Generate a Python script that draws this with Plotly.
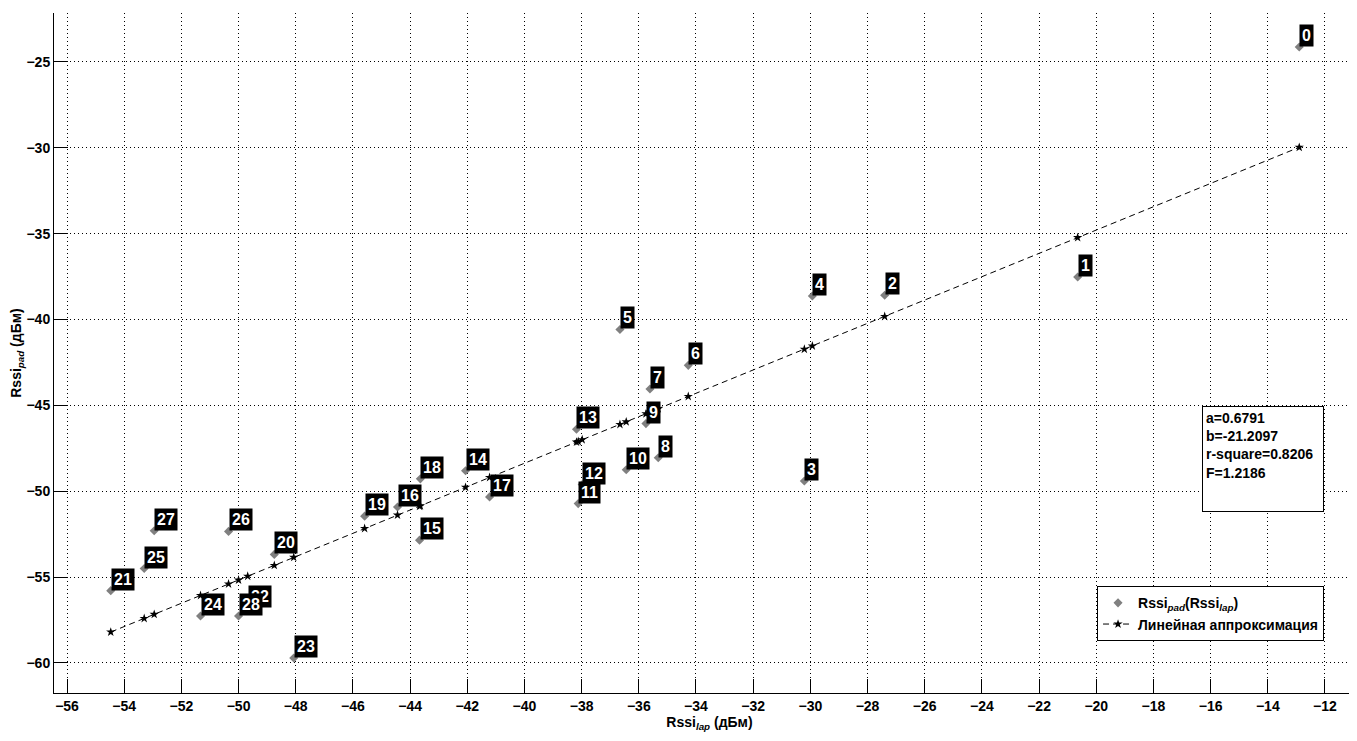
import plotly.graph_objects as go

# measured points (index = label number)
rssi_lap = [-12.9, -20.65, -27.4, -30.21, -29.93, -36.66, -34.27, -35.61, -35.32, -35.75,
            -36.44, -38.12, -37.98, -38.18, -42.06, -43.67, -44.44, -41.22, -43.64, -45.59,
            -48.75, -54.47, -49.68, -48.07, -51.33, -53.30, -50.35, -52.95, -50.0]
rssi_pad = [-24.13, -37.52, -38.59, -49.40, -38.63, -40.58, -42.67, -44.05, -48.05, -46.06,
            -48.75, -50.72, -49.61, -46.39, -48.81, -52.85, -50.92, -50.33, -49.28, -51.45,
            -53.68, -55.79, -56.80, -59.71, -57.27, -54.50, -52.34, -52.30, -57.27]
point_labels = [str(i) for i in range(len(rssi_lap))]

# fitted values
fit_pad = [-29.97, -35.23, -39.82, -41.73, -41.54, -46.11, -44.48, -45.39, -45.20, -45.49,
           -45.96, -47.10, -47.00, -47.14, -49.77, -50.87, -51.39, -49.20, -50.85, -52.17,
           -54.32, -58.20, -54.95, -53.85, -56.07, -57.41, -55.40, -57.17, -55.17]

fit_stats = ["a=0.6791", "b=-21.2097", "r-square=0.8206", "F=1.2186"]

x_ticks = list(range(-56, -11, 2))
y_ticks = list(range(-60, -24, 5))

FONT = "Liberation Sans"

# line goes through the fitted points sorted along x
order = sorted(range(len(rssi_lap)), key=lambda i: rssi_lap[i])
line_x = [rssi_lap[i] for i in order]
line_y = [fit_pad[i] for i in order]

fig = go.Figure()

fig.add_trace(go.Scatter(
    x=rssi_lap, y=rssi_pad, mode="markers",
    name="Rssi<sub><i>pad</i></sub>(Rssi<sub><i>lap</i></sub>)",
    marker=dict(symbol="diamond", size=7, color="#808080"),
))

fig.add_trace(go.Scatter(
    x=line_x, y=line_y, mode="lines+markers",
    name="Линейная аппроксимация",
    line=dict(color="black", width=1, dash="6px,4px"),
    marker=dict(symbol="star", size=7, color="black"),
))

for xv, yv, txt in zip(rssi_lap, rssi_pad, point_labels):
    fig.add_annotation(
        x=xv, y=yv, text=txt, showarrow=False,
        xanchor="left", yanchor="bottom",
        bgcolor="black", borderpad=2,
        font=dict(family="Liberation Sans Narrow, Liberation Sans", size=16,
                  color="white", weight="bold"),
    )

fig.add_annotation(
    xref="paper", yref="paper", x=0.8757, y=0.422,
    xanchor="left", yanchor="top",
    text="<br>".join(fit_stats), showarrow=False,
    align="left", valign="top", width=114, height=98,
    bgcolor="white", bordercolor="black", borderwidth=1, borderpad=3,
    font=dict(family=FONT, size=14, color="black", weight="bold"),
)

axis_font = dict(family=FONT, size=14, color="black", weight="bold")

# page body has an 8px offset, margins compensate for it
fig.update_xaxes(
    range=[-56.455, -10.60], tickvals=x_ticks,
    ticks="inside", ticklen=14, tickcolor="black",
    showline=True, linecolor="black", linewidth=1,
    showgrid=True, gridcolor="black", gridwidth=1, griddash="1px,3px",
    zeroline=False, tickfont=axis_font,
    title=dict(text="Rssi<sub><i>lap</i></sub> (дБм)", font=axis_font, standoff=2),
)
fig.update_yaxes(
    range=[-61.75, -22.15], tickvals=y_ticks,
    ticks="inside", ticklen=14, tickcolor="black",
    showline=True, linecolor="black", linewidth=1,
    showgrid=True, gridcolor="black", gridwidth=1, griddash="1px,3px",
    zeroline=False, tickfont=axis_font,
    title=dict(text="Rssi<sub><i>pad</i></sub> (дБм)", font=axis_font, standoff=4),
)

fig.update_layout(
    width=1357, height=741,
    margin=dict(l=46, r=0, t=5, b=56, autoexpand=False),
    paper_bgcolor="white", plot_bgcolor="white",
    font=dict(family=FONT, color="black"),
    legend=dict(
        x=0.7956, y=0.157, xanchor="left", yanchor="top",
        bgcolor="white", bordercolor="black", borderwidth=1,
        font=dict(family=FONT, size=14, color="black", weight="bold"),
        itemwidth=30, tracegroupgap=2,
    ),
)

fig.write_html("out.html")
